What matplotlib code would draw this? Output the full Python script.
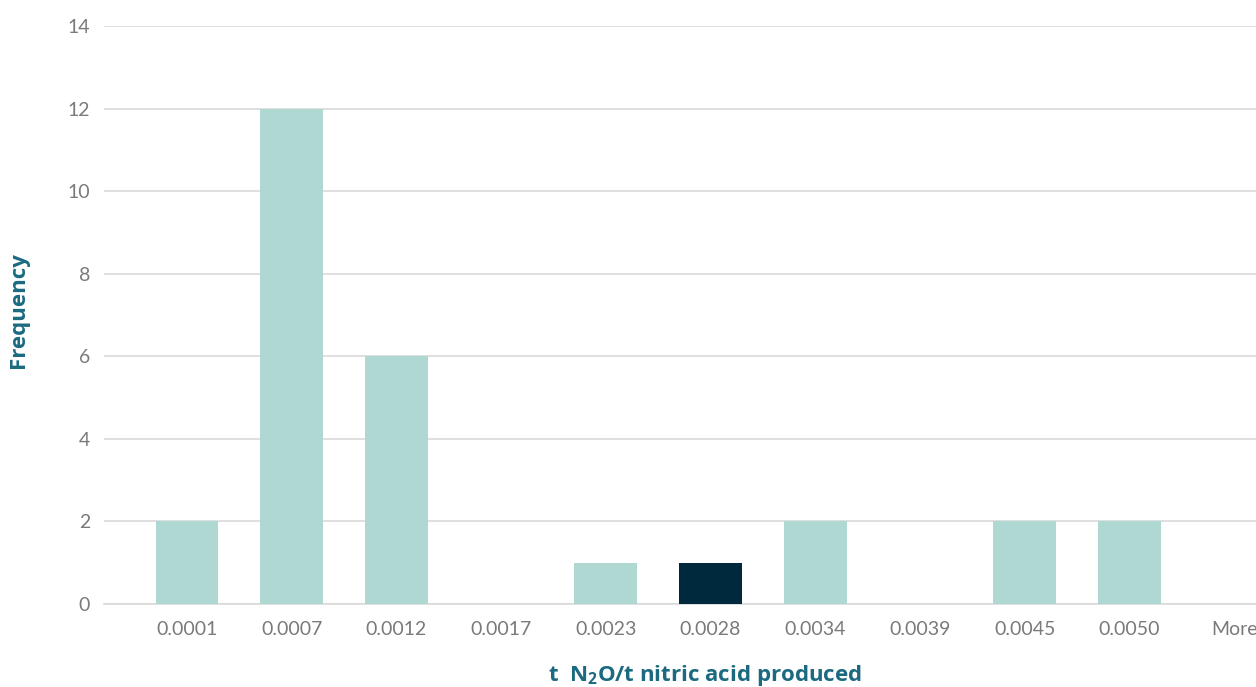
import matplotlib
matplotlib.use("Agg")
import matplotlib.pyplot as plt

categories = ["0.0001", "0.0007", "0.0012", "0.0017", "0.0023", "0.0028",
              "0.0034", "0.0039", "0.0045", "0.0050", "More"]
frequency = [2, 12, 6, 0, 1, 1, 2, 0, 2, 2, 0]
highlight = "0.0028"
y_ticks = [0, 2, 4, 6, 8, 10, 12, 14]

light = "#b0d8d3"
dark = "#00293d"
label_color = "#1b6a80"
tick_color = "#7a7a7a"
grid_color = "#d9d9d9"

plt.rcParams["mathtext.fontset"] = "custom"
plt.rcParams["mathtext.rm"] = "Open Sans:bold"
plt.rcParams["mathtext.bf"] = "Open Sans:bold"

fig = plt.figure(figsize=(12.56, 6.87), dpi=100)
ax = fig.add_axes([104 / 1256, 1 - 604 / 687, 1 - 104 / 1256, (604 - 26) / 687])

x = list(range(len(categories)))
colors = [dark if c == highlight else light for c in categories]
ax.bar(x, frequency, width=0.6, color=colors, zorder=3)

ax.set_xlim(-0.793, 10.21)
ax.set_ylim(0, 14)
ax.set_yticks(y_ticks)
ax.set_xticks(x)
ax.set_xticklabels(categories)
ax.yaxis.grid(True, color=grid_color, linewidth=1.2, zorder=0)
ax.set_axisbelow(True)
for s in ["top", "right", "left"]:
    ax.spines[s].set_visible(False)
ax.spines["bottom"].set_color(grid_color)
ax.spines["bottom"].set_linewidth(1.2)
ax.tick_params(axis="both", length=0, colors=tick_color)
ax.tick_params(axis="x", pad=12)
ax.tick_params(axis="y", pad=10)
for lab in ax.get_xticklabels() + ax.get_yticklabels():
    lab.set_fontfamily("Lato")
    lab.set_fontweight("normal")
    lab.set_fontsize(14)

fig.text(705 / 1256, 1 - 676 / 687, r"t  N$_2$O/t nitric acid produced",
         ha="center", va="center", fontsize=16, fontweight="bold",
         color=label_color, family="Open Sans")
fig.text(19 / 1256, 1 - 310 / 687, "Frequency", rotation=90,
         ha="center", va="center", fontsize=16, fontweight="bold",
         color=label_color, family="Open Sans")

fig.savefig("out.png", dpi=100)
